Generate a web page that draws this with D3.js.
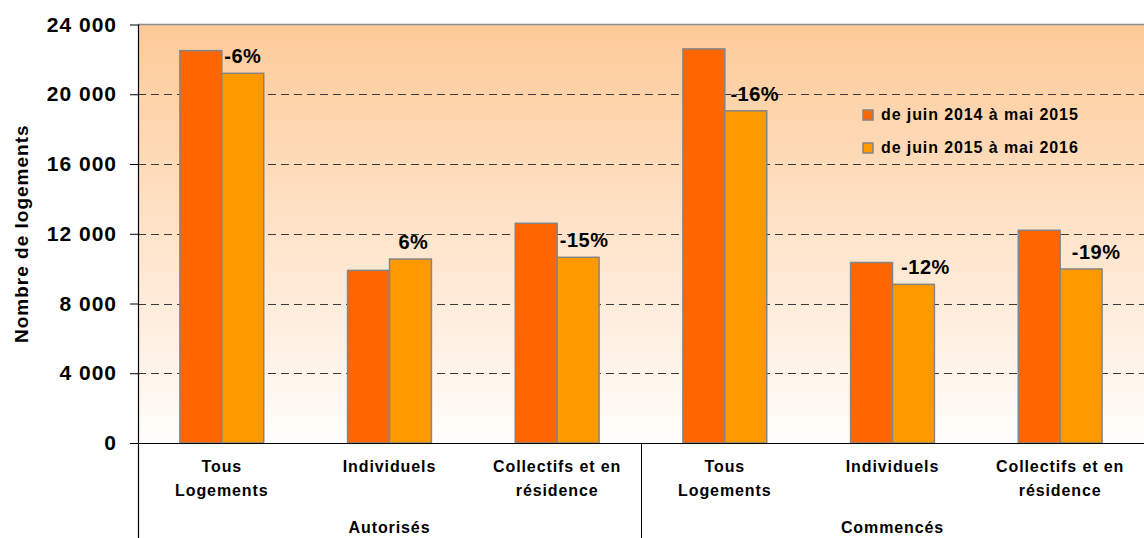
<!DOCTYPE html>
<html>
<head>
<meta charset="utf-8">
<script src="https://cdn.jsdelivr.net/npm/d3@7"></script>
<style>
  body { margin: 0; background: #fff; }
  text { font-family: "Liberation Sans", Arial, sans-serif; font-weight: bold; fill: #000; }
</style>
</head>
<body>
<div id="chart"></div>
<script>
// data
const groups = ["Autorisés", "Commencés"];
const categories = [
    ["Tous", "Logements"],
    ["Individuels"],
    ["Collectifs et en", "résidence"],
    ["Tous", "Logements"],
    ["Individuels"],
    ["Collectifs et en", "résidence"]
];
const seriesNames = ["de juin 2014 à mai 2015", "de juin 2015 à mai 2016"];
const values2014 = [22500, 9900, 12600, 22600, 10350, 12200];
const values2015 = [21200, 10550, 10650, 19050, 9100, 9980];
const changeLabels = ["-6%", "6%", "-15%", "-16%", "-12%", "-19%"];
const yTicks = [0, 4000, 8000, 12000, 16000, 20000, 24000];

const W = 1144, H = 538;
const margin = { top: 24.5, right: 0, bottom: 95, left: 138 };
const colors = ["#ff6600", "#ff9900"];

const svg = d3.select("#chart").append("svg")
    .attr("width", W)
    .attr("height", H);

const x = d3.scaleBand()
    .domain(d3.range(categories.length))
    .range([margin.left, W - margin.right])
    .padding(0);

const xInner = d3.scaleBand()
    .domain([0, 1])
    .range([0, x.bandwidth()])
    .paddingInner(0)
    .paddingOuter(1);

const y = d3.scaleLinear()
    .domain([0, 24000])
    .range([H - margin.bottom, margin.top]);

const fr = d3.formatLocale({ decimal: ",", thousands: " ", grouping: [3], currency: ["", " €"] });

// background gradient
const defs = svg.append("defs");
const grad = defs.append("linearGradient")
    .attr("id", "bg").attr("x1", 0).attr("y1", 0).attr("x2", 0).attr("y2", 1);
grad.append("stop").attr("offset", "0%").attr("stop-color", "#fdca98");
grad.append("stop").attr("offset", "100%").attr("stop-color", "#fffdfb");

svg.append("rect")
    .attr("x", margin.left)
    .attr("y", y(24000))
    .attr("width", W - margin.right - margin.left)
    .attr("height", y(0) - y(24000))
    .attr("fill", "url(#bg)");

// top border of plot area
svg.append("line")
    .attr("x1", margin.left).attr("x2", W)
    .attr("y1", y(24000)).attr("y2", y(24000))
    .attr("stroke", "#8c8c8c").attr("stroke-width", 1.5);

// dashed gridlines
svg.append("g")
    .selectAll("line")
    .data(yTicks.filter(d => d > 0 && d < 24000))
    .join("line")
    .attr("x1", margin.left).attr("x2", W)
    .attr("y1", d => Math.round(y(d)) + 0.5).attr("y2", d => Math.round(y(d)) + 0.5)
    .attr("stroke", "#3a3a3a")
    .attr("stroke-dasharray", "8,5");

// bars
const series = [values2014, values2015];
series.forEach((vals, s) => {
    svg.append("g")
        .selectAll("rect")
        .data(vals)
        .join("rect")
        .attr("x", (d, i) => x(i) + xInner(s))
        .attr("y", d => y(d))
        .attr("width", xInner.bandwidth())
        .attr("height", d => y(0) - y(d))
        .attr("fill", colors[s])
        .attr("stroke", "#858585")
        .attr("stroke-width", 1.5);
});

// change labels
svg.append("g")
    .selectAll("text")
    .data(changeLabels)
    .join("text")
    .attr("x", (d, i) => x(i) + xInner(1) + xInner.bandwidth() / 2 + 3 * i)
    .attr("y", (d, i) => y(values2015[i]) - 10)
    .attr("text-anchor", "middle")
    .style("font-size", "20px")
    .style("letter-spacing", "0.5px")
    .text(d => d);

// y axis
const yAxis = d3.axisLeft(y)
    .tickValues(yTicks)
    .tickSize(8)
    .tickPadding(13)
    .tickFormat(fr.format(",d"));

const gy = svg.append("g")
    .attr("transform", `translate(${margin.left},0)`)
    .call(yAxis);
gy.select(".domain").remove();
gy.selectAll(".tick line").attr("stroke", "#000");
gy.selectAll(".tick text")
    .style("font-size", "21px")
    .style("letter-spacing", "1px")
    .attr("font-family", null);

// axis lines: left axis runs down through the category area
svg.append("line")
    .attr("x1", margin.left + 0.5).attr("x2", margin.left + 0.5)
    .attr("y1", y(24000)).attr("y2", H)
    .attr("stroke", "#000").attr("stroke-width", 1.2);
svg.append("line")
    .attr("x1", margin.left).attr("x2", W)
    .attr("y1", y(0) + 0.5).attr("y2", y(0) + 0.5)
    .attr("stroke", "#000").attr("stroke-width", 1.2);

// group separator
svg.append("line")
    .attr("x1", x(3) + 0.5).attr("x2", x(3) + 0.5)
    .attr("y1", y(0)).attr("y2", H)
    .attr("stroke", "#000").attr("stroke-width", 1);

// category labels
const catG = svg.append("g")
    .selectAll("text")
    .data(categories)
    .join("text")
    .attr("text-anchor", "middle")
    .attr("x", (d, i) => x(i) + x.bandwidth() / 2)
    .attr("y", y(0) + 29)
    .style("font-size", "16px")
    .style("letter-spacing", "0.9px");
catG.selectAll("tspan")
    .data(d => d)
    .join("tspan")
    .attr("x", function() { return this.parentNode.getAttribute("x"); })
    .attr("dy", (d, j) => j === 0 ? 0 : 24)
    .text(d => d);

// group labels
svg.append("g")
    .selectAll("text")
    .data(groups)
    .join("text")
    .attr("text-anchor", "middle")
    .attr("x", (d, i) => x(i * 3) + x.bandwidth() * 1.5)
    .attr("y", H - 5)
    .style("font-size", "16px")
    .style("letter-spacing", "0.9px")
    .text(d => d);

// y axis title
svg.append("text")
    .attr("transform", `translate(28,${(y(0) + y(24000)) / 2}) rotate(-90)`)
    .attr("text-anchor", "middle")
    .style("font-size", "19px")
    .style("letter-spacing", "1px")
    .text("Nombre de logements");

// legend
const legend = svg.append("g")
    .selectAll("g")
    .data(seriesNames)
    .join("g")
    .attr("transform", (d, i) => `translate(863,${110 + i * 33})`);
legend.append("rect")
    .attr("width", 10).attr("height", 10)
    .attr("fill", (d, i) => colors[i])
    .attr("stroke", "#858585").attr("stroke-width", 1.5);
legend.append("text")
    .attr("x", 18).attr("y", 10)
    .style("font-size", "16px")
    .style("letter-spacing", "0.9px")
    .text(d => d);
</script>
</body>
</html>
